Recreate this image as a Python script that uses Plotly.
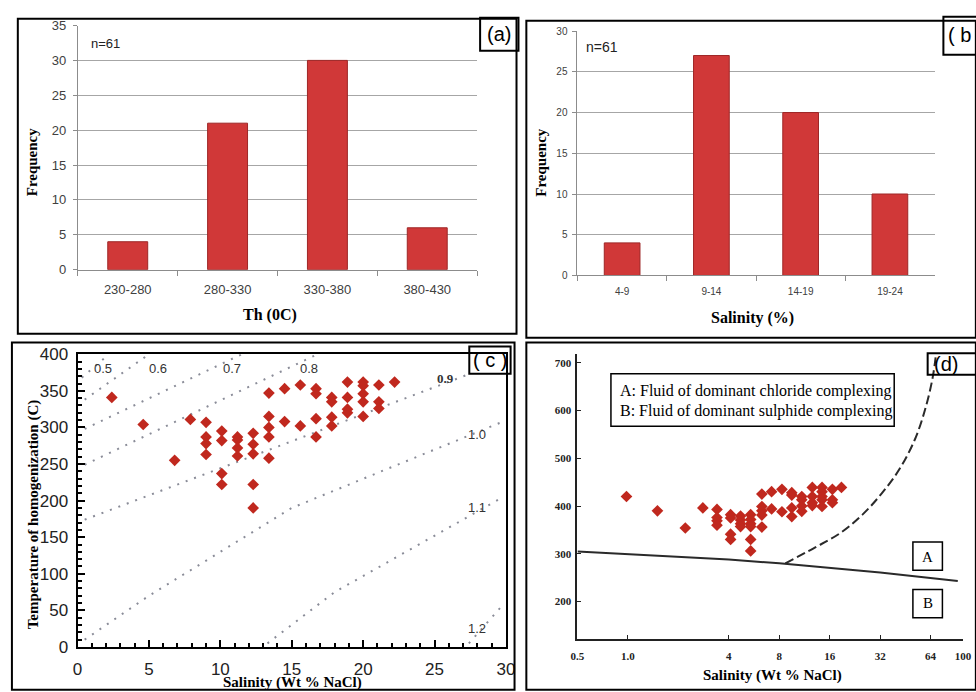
import math
import plotly.graph_objects as go

W, H = 976, 692
def px(x): return x / W
def py(y): return 1 - y / H

# ---------------- data ----------------
# (a) homogenization temperature histogram
th_bins = ["230-280", "280-330", "330-380", "380-430"]
th_freq = [4, 21, 30, 6]
# (b) salinity histogram
sal_bins = ["4-9", "9-14", "14-19", "19-24"]
sal_freq = [4, 27, 20, 10]

# (c) Th vs salinity
c_sal = [2.4, 4.6, 6.8, 7.9,
         9.0, 9.0, 9.0, 9.0,
         10.1, 10.1, 10.1, 10.1,
         11.2, 11.2, 11.2, 11.2,
         12.3, 12.3, 12.3, 12.3, 12.3,
         13.4, 13.4, 13.4, 13.4, 13.4,
         14.5, 14.5,
         15.6, 15.6,
         16.7, 16.7, 16.7, 16.7,
         17.8, 17.8, 17.8, 17.8,
         18.9, 18.9, 18.9, 18.9,
         20.0, 20.0, 20.0, 20.0, 20.0,
         21.1, 21.1, 21.1,
         22.2]
c_th = [341, 304, 255, 311,
        307, 287, 278, 263,
        295, 282, 237, 222,
        287, 283, 272, 261,
        292, 277, 264, 222, 190,
        347, 315, 300, 287, 258,
        353, 308,
        358, 302,
        353, 346, 312, 287,
        341, 335, 314, 302,
        362, 341, 325, 320,
        362, 357, 346, 335, 315,
        358, 335, 326,
        362]

# density isochores (g/cm3) in panel (c)
iso_labels = ["0.5", "0.6", "0.7", "0.8", "0.9", "1.0", "1.1", "1.2"]
iso_sal = [[0.3, 2.2], [0.5, 5.0], [0.5, 11.5], [0.5, 16.8], [0.5, 27.3],
           [0.5, 5.0, 15.0, 29.8], [13.3, 18.0, 29.8], [27.4, 29.8]]
iso_th = [[368, 400], [338, 400], [298, 400], [249, 400], [174, 372],
          [10, 70, 190, 308], [5, 75, 205], [5, 58]]

# (d) Th vs salinity (log)
d_sal = [0.98, 1.5, 2.2, 2.8,
         3.4, 3.4, 3.4, 3.4,
         4.1, 4.1, 4.1, 4.1,
         4.7, 4.7, 4.7, 4.7,
         5.4, 5.4, 5.4, 5.4, 5.4, 5.4,
         6.3, 6.3, 6.3, 6.3, 6.3,
         7.2, 7.2,
         8.3, 8.3,
         9.5, 9.5, 9.5, 9.5,
         10.9, 10.9, 10.9, 10.9,
         12.6, 12.6, 12.6, 12.6,
         14.4, 14.4, 14.4, 14.4, 14.4,
         16.6, 16.6, 16.6,
         18.8]
d_th = [420, 390, 354, 396,
        393, 376, 369, 360,
        382, 375, 341, 330,
        379, 371, 363, 357,
        382, 372, 363, 357, 330, 306,
        425, 399, 390, 381, 356,
        430, 394,
        435, 388,
        428, 423, 396, 378,
        420, 413, 400, 389,
        439, 420, 407, 401,
        439, 430, 420, 413, 399,
        435, 413, 407,
        439]
# boundary between chloride (A) and sulphide (B) complexing
bound_sal = [0.5, 1.0, 4.0, 8.0, 32.0, 93.0]
bound_th = [305, 299, 288, 280, 261, 243]
# dashed curve
dash_sal = [8.7, 12.9, 18.6, 25.1, 32.8, 42.2, 52.2, 60.3, 66.0, 68.8]
dash_th = [280, 312, 344, 382, 427, 480, 544, 611, 671, 716]

d_xticks = [0.5, 1, 4, 8, 16, 32, 64, 100]
d_xtext = ["0.5", "1.0", "4", "8", "16", "32", "64", "100"]
d_yticks = [200, 300, 400, 500, 600, 700]

# ---------------- figure ----------------
BAR = "#D03838"
BAR_EDGE = "#9E2626"
DOT = "#C0281E"
GRID = "#A6A6A6"
SERIF = "Liberation Serif"
SANS = "Liberation Sans"

fig = go.Figure()

fig.add_trace(go.Bar(x=th_bins, y=th_freq, width=0.4, xaxis="x", yaxis="y",
                     marker=dict(color=BAR, line=dict(color=BAR_EDGE, width=1))))
fig.add_trace(go.Bar(x=sal_bins, y=sal_freq, width=0.4, xaxis="x2", yaxis="y2",
                     marker=dict(color=BAR, line=dict(color=BAR_EDGE, width=1))))

for s, t in zip(iso_sal, iso_th):
    fig.add_trace(go.Scatter(x=s, y=t, mode="lines", xaxis="x3", yaxis="y3",
                             line=dict(color="#8A8C98", width=2, dash="2px,7px"),
                             hoverinfo="skip"))
fig.add_trace(go.Scatter(x=c_sal, y=c_th, mode="markers", xaxis="x3", yaxis="y3",
                         marker=dict(symbol="diamond", size=9, color=DOT)))

fig.add_trace(go.Scatter(x=bound_sal, y=bound_th, mode="lines", xaxis="x4", yaxis="y4",
                         line=dict(color="#2A2A2A", width=2)))
fig.add_trace(go.Scatter(x=dash_sal, y=dash_th, mode="lines", xaxis="x4", yaxis="y4",
                         line=dict(color="#2A2A2A", width=2, dash="9px,4px"),
                         line_shape="spline"))
fig.add_trace(go.Scatter(x=d_sal, y=d_th, mode="markers", xaxis="x4", yaxis="y4",
                         marker=dict(symbol="diamond", size=9, color=DOT)))

hist_x = dict(showline=True, linecolor="#8C8C8C", linewidth=1, ticks="outside",
              tickson="boundaries", ticklen=5, tickcolor="#8C8C8C", showgrid=False,
              fixedrange=True)
hist_y = dict(showline=True, linecolor="#8C8C8C", linewidth=1, ticks="outside",
              ticklen=4, tickcolor="#8C8C8C", showgrid=True, gridcolor=GRID,
              gridwidth=1, zeroline=False, fixedrange=True)

fig.update_layout(
    width=W, height=H, margin=dict(l=0, r=0, t=0, b=0),
    paper_bgcolor="white", plot_bgcolor="rgba(0,0,0,0)", showlegend=False,
    xaxis=dict(domain=[px(72), px(478)], anchor="y", ticklabelstandoff=8,
               tickfont=dict(family=SANS, size=13, color="#404040"), **hist_x),
    yaxis=dict(domain=[py(268), py(17)], anchor="x", range=[0, 35], dtick=5,
               ticklabelstandoff=4,
               tickfont=dict(family=SANS, size=13, color="#404040"), **hist_y),
    xaxis2=dict(domain=[px(580), px(943)], anchor="y2", ticklabelstandoff=7,
                tickfont=dict(family=SANS, size=10, color="#404040"), **hist_x),
    yaxis2=dict(domain=[py(274), py(22.7)], anchor="x2", range=[0, 30], dtick=5,
                ticklabelstandoff=3,
                tickfont=dict(family=SANS, size=10, color="#404040"), **hist_y),
    xaxis3=dict(domain=[px(71.7), px(507.3)], anchor="y3", range=[0, 30], dtick=5,
                showline=True, mirror=True, linecolor="black", linewidth=2,
                ticks="inside", ticklen=7, tickwidth=1.5, tickcolor="black",
                minor=dict(ticks="inside", dtick=1, ticklen=4, tickcolor="black"),
                showgrid=False, zeroline=False, ticklabelstandoff=6,
                tickfont=dict(family=SANS, size=17, color="#222")),
    yaxis3=dict(domain=[py(656), py(355)], anchor="x3", range=[0, 400], dtick=50,
                showline=True, mirror=True, linecolor="black", linewidth=2,
                ticks="inside", ticklen=7, tickwidth=1.5, tickcolor="black",
                minor=dict(ticks="inside", dtick=10, ticklen=4, tickcolor="black"),
                showgrid=False, zeroline=False, ticklabelstandoff=4,
                tickfont=dict(family=SANS, size=17, color="#222")),
    xaxis4=dict(domain=[px(580), px(972)], anchor="y4", type="log",
                range=[math.log10(0.5), 2], tickvals=d_xticks, ticktext=d_xtext,
                showline=True, linecolor="#222", linewidth=2, ticks="inside",
                ticklen=4, tickcolor="#222", showgrid=False, zeroline=False,
                ticklabelstandoff=6,
                tickfont=dict(family=SERIF, size=11, color="#222", weight="bold")),
    yaxis4=dict(domain=[py(648), py(355)], anchor="x4", range=[121, 718],
                tickvals=d_yticks, showline=True, linecolor="#222", linewidth=2,
                ticks="inside", ticklen=4, tickcolor="#222", showgrid=False,
                zeroline=False, ticklabelstandoff=2,
                tickfont=dict(family=SERIF, size=11, color="#222", weight="bold")),
)

shapes = []
def rect(x0, y0, x1, y1, w=2):
    shapes.append(dict(type="rect", xref="paper", yref="paper",
                       x0=px(x0), x1=px(x1), y0=py(y1), y1=py(y0),
                       line=dict(color="black", width=w), fillcolor="rgba(0,0,0,0)"))
# panel frames
rect(11, 10, 518, 334)
rect(528, 12, 985, 338)
rect(5, 343, 516, 700)
rect(528, 343, 985, 700)
# panel label boxes
rect(481, 9, 520, 43)
rect(952, 8, 990, 47)
rect(470, 347, 512, 375)
rect(936, 354, 990, 376)
# legend box and A/B boxes in (d)
rect(614, 375, 902, 429, 1.5)
rect(921, 548, 951, 577, 1.5)
rect(921, 597, 951, 626, 1.5)
fig.update_layout(shapes=shapes)

ann = []
def text(x, y, s, size, family=SANS, color="black", xanchor="center", angle=0):
    ann.append(dict(x=px(x), y=py(y), xref="paper", yref="paper", text=s,
                    showarrow=False, xanchor=xanchor, yanchor="middle",
                    textangle=angle, font=dict(family=family, size=size, color=color)))

text(500.5, 26, "(a)", 20)
text(955, 27, "( b )", 20, xanchor="left")
text(491, 361, "( c )", 20)
text(940, 365, "(d)", 20, xanchor="left")

text(100, 35, "n=61", 13, color="#222")
text(605, 39, "n=61", 14, color="#222")

text(25, 157, "<b>Frequency</b>", 15, SERIF, angle=-90)
text(267, 315, "<b>Th (0C)</b>", 16, SERIF)
text(543, 158, "<b>Frequency</b>", 15, SERIF, angle=-90)
text(758, 318, "<b>Salinity (%)</b>", 16, SERIF)

text(27, 520, "<b>Temperature of homogenization (C)</b>", 15, SERIF, angle=-90)
text(290, 693, "<b>Salinity (Wt % NaCl)</b>", 15, SERIF)
text(778, 685, "<b>Salinity (Wt % NaCl)</b>", 15, SERIF)

text(621, 393, "A: Fluid of dominant chloride complexing", 16, SERIF, xanchor="left")
text(621, 413, "B: Fluid of dominant sulphide complexing", 16, SERIF, xanchor="left")
text(936, 563, "A", 15, SERIF)
text(936, 611, "B", 15, SERIF)

# isochore labels in (c)
iso_lab_x = [1.75, 5.6, 10.8, 16.2, 25.8, 28.0, 28.0, 28.0]
iso_lab_y = [381, 381, 381, 381, 367, 291, 190, 25]
for lab, lx, ly in zip(iso_labels, iso_lab_x, iso_lab_y):
    ann.append(dict(x=lx, y=ly, xref="x3", yref="y3", showarrow=False,
                    text=("<b>%s</b>" % lab) if lab == "0.9" else lab,
                    font=dict(family=SERIF if lab == "0.9" else SANS, size=13,
                              color="#333")))
fig.update_layout(annotations=ann)

fig.write_html("out.html", config={"displayModeBar": False},
               post_script="document.body.style.margin='0';document.body.style.overflow='hidden';")
